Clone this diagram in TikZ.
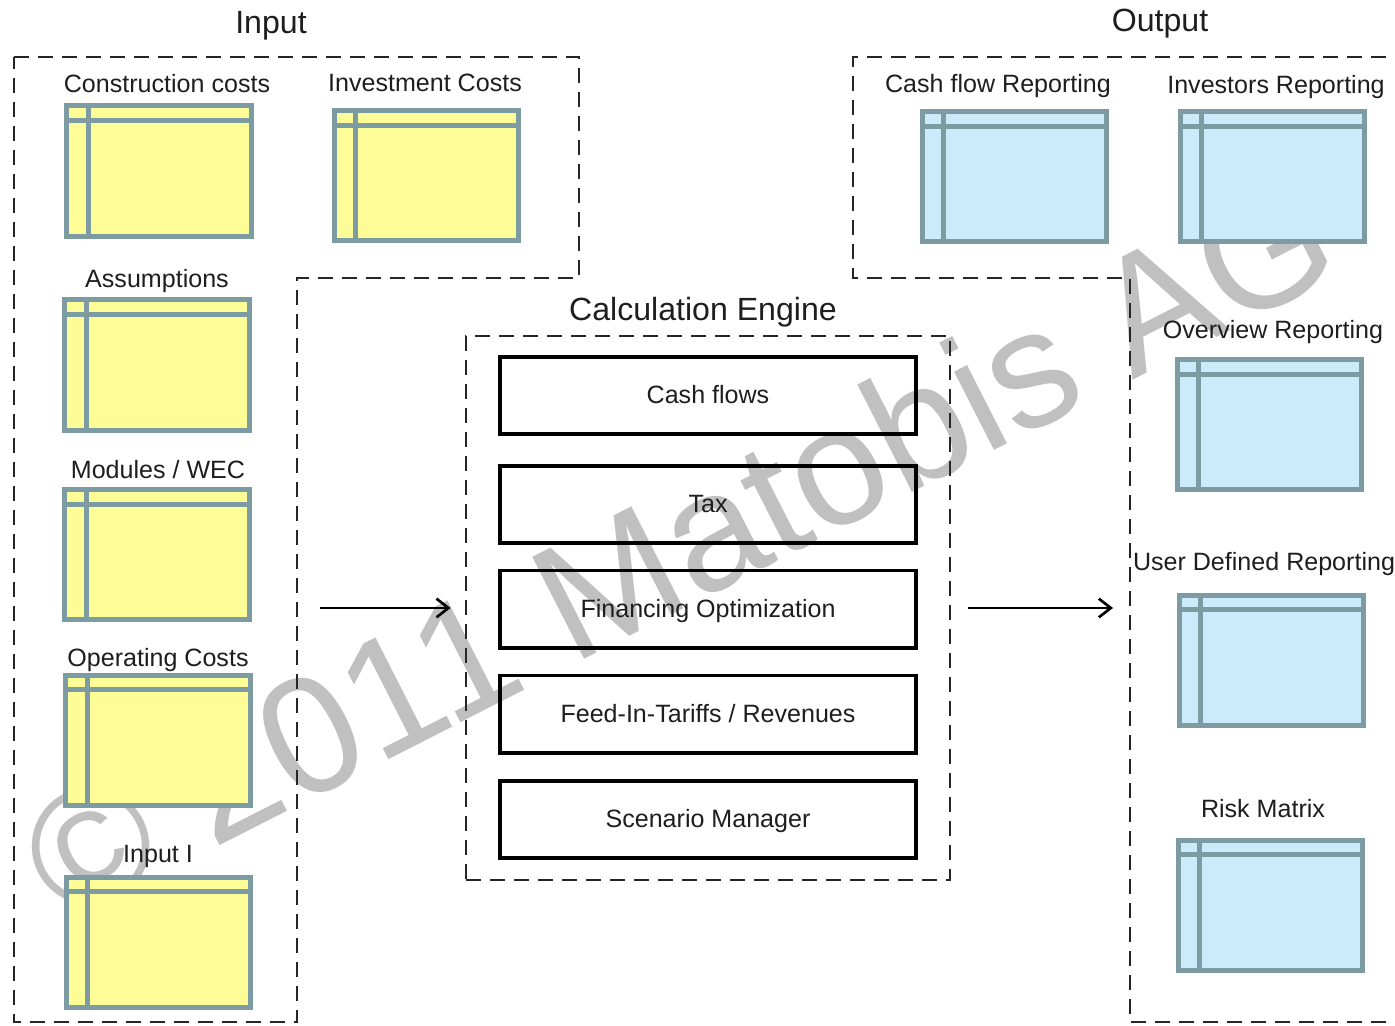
\documentclass[tikz,border=0pt]{standalone}
\usepackage{fontspec}
\setmainfont{Liberation Sans}
\usetikzlibrary{arrows.meta}
\definecolor{sheetline}{RGB}{125,155,163}
\definecolor{sheetyellow}{RGB}{254,252,150}
\definecolor{sheetblue}{RGB}{204,235,250}
\definecolor{wmgray}{RGB}{192,192,192}
\definecolor{txt}{RGB}{30,30,30}
\tikzstyle{arrow} = [-{Straight Barb[length=1.8mm,width=2.8mm]}, line width=0.4mm]
\tikzstyle{region} = [dash pattern=on 2.2mm off 1.4mm, line width=0.4mm, black!85]
\tikzstyle{sheet} = [draw=sheetline, line width=0.75mm, inner sep=0pt,
  minimum width=27.6mm, minimum height=19.5mm,
  path picture={
    \draw[sheetline, line width=0.75mm]
      ([yshift=-2.2mm]path picture bounding box.north west) -- ([yshift=-2.2mm]path picture bounding box.north east)
      ([xshift=3.2mm]path picture bounding box.north west) -- ([xshift=3.2mm]path picture bounding box.south west);}]
\tikzstyle{ysheet} = [sheet, fill=sheetyellow]
\tikzstyle{bsheet} = [sheet, fill=sheetblue]
\tikzstyle{lbl} = [anchor=base, inner sep=0pt, text=txt, font=\fontsize{10.7}{12}\selectfont]
\tikzstyle{title} = [anchor=base, inner sep=0pt, text=txt, font=\fontsize{13.7}{16}\selectfont]
\tikzstyle{engbox} = [draw, line width=0.55mm, minimum width=62.4mm, minimum height=11.6mm,
  text height=0.72em, text depth=0pt, text=txt, font=\fontsize{10.7}{12}\selectfont]
\tikzstyle{wm} = [anchor=base west, inner sep=0pt, rotate=27, text=wmgray, font=\fontsize{71}{71}\selectfont]

\begin{document}
\begin{tikzpicture}[x=0.15mm, y=-0.15mm]
  \useasboundingbox (0,0) rectangle (1395,1026);
  \clip (0,0) rectangle (1395,1026);

  % watermark
  \node[wm] (wmark) at (62,926) {© 2011 Matobis AG};

  % input sheets
  \node[ysheet] at (159,171) (cc) {};
  \node[ysheet] at (426,175.5) (ic) {};
  \node[ysheet] at (157,365) (as) {};
  \node[ysheet] at (157,554.5) (mw) {};
  \node[ysheet] at (158,740) (oc) {};
  \node[ysheet] at (158.5,942) (ii) {};

  % output sheets
  \node[bsheet] at (1014,176.5) (cf) {};
  \node[bsheet] at (1272,176.5) (ir) {};
  \node[bsheet] at (1269,424.5) (ov) {};
  \node[bsheet] at (1271.5,660) (ud) {};
  \node[bsheet] at (1270.5,905) (rm) {};

  \node[lbl] at (167,93) (ccL) {Construction costs};
  \node[lbl] at (425,92) (icL) {Investment Costs};
  \node[lbl] at (157,288) (asL) {Assumptions};
  \node[lbl] at (158,478) (mwL) {Modules / WEC};
  \node[lbl] at (158,666) (ocL) {Operating Costs};
  \node[lbl] at (158,862) (iiL) {Input I};
  \node[lbl] at (998,93) (cfL) {Cash flow Reporting};
  \node[lbl] at (1276,94) (irL) {Investors Reporting};
  \node[lbl] at (1273,339) (ovL) {Overview Reporting};
  \node[lbl] at (1264,570) (udL) {User Defined Reporting};
  \node[lbl] at (1263,817) (rmL) {Risk Matrix};

  \node[title] at (271,34) (inT) {Input};
  \node[title] at (1160,32) (outT) {Output};
  \node[title] at (703,321) (engT) {Calculation Engine};

  % calculation engine
  \node[region, draw, minimum width=72.6mm, minimum height=81.6mm] at (708,608) (engine) {};
  \node[engbox] at (708,395.5) (cash) {Cash flows};
  \node[engbox] at (708,504.5) (tax) {Tax};
  \node[engbox] at (708,609) (fin) {Financing Optimization};
  \node[engbox] at (708,714) (fit) {Feed-In-Tariffs / Revenues};
  \node[engbox] at (708,819.5) (scen) {Scenario Manager};

  % regions
  \draw[region] (14,57) -- (579,57) -- (579,278) -- (297,278) -- (297,1022) -- (14,1022) -- cycle;
  \draw[region] (1410,57) -- (853,57) -- (853,278) -- (1130,278) -- (1130,1022) -- (1410,1022);

  \coordinate (inR) at (320,608);
  \coordinate (outL) at (1113,608);
  \draw[arrow, shorten >=2.1mm] (inR) -- (engine.west);
  \draw[arrow, shorten <=2.5mm] (engine.east) -- (outL);
\end{tikzpicture}
\end{document}
